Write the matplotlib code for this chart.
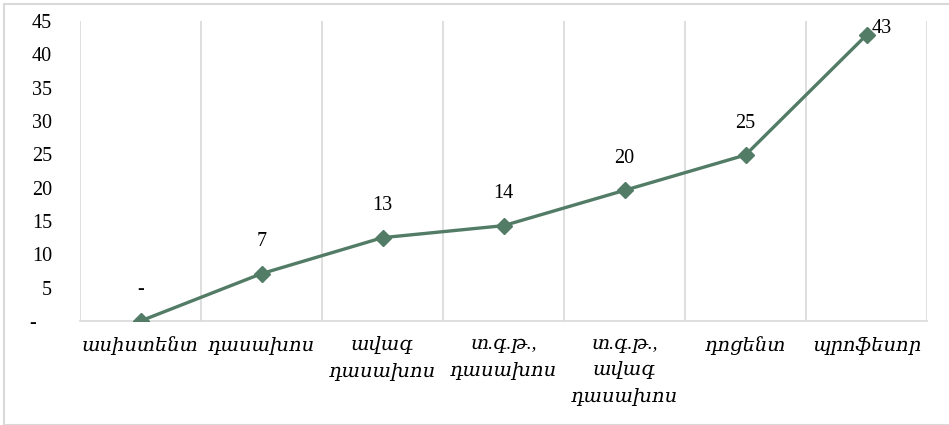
import matplotlib
matplotlib.use('Agg')
import matplotlib.pyplot as plt
from matplotlib.patches import Rectangle

# data
categories = ['ասիստենտ', 'դասախոս', 'ավագ\nդասախոս', 'տ.գ.թ.,\nդասախոս',
              'տ.գ.թ.,\nավագ\nդասախոս', 'դոցենտ', 'պրոֆեսոր']
values = [0, 7.1, 12.5, 14.3, 19.6, 24.9, 42.9]
yticks = [0, 5, 10, 15, 20, 25, 30, 35, 40, 45]

line_color = '#527c66'
grid_color = '#d9d9d9'
num_font = ['Liberation Serif', 'DejaVu Serif']


def fmt(v):
    # accounting style: zero shown as a dash
    return '-' if round(v) == 0 else str(int(v + 0.5))


fig = plt.figure(figsize=(9.49, 4.25), dpi=100)
ax = fig.add_axes([80 / 949, 104 / 425, 847 / 949, 300 / 425])

x = list(range(len(categories)))
ax.plot(x, values, color=line_color, lw=2.4, marker='D', ms=8, zorder=3)

for i, v in enumerate(values):
    if i == len(values) - 1:
        ax.annotate(fmt(v), (i, v), xytext=(4, 5), textcoords='offset points',
                    ha='left', va='center', fontsize=14.5, family=num_font)
    else:
        ax.annotate(fmt(v), (i, v), xytext=(0, 16), textcoords='offset points',
                    ha='center', va='bottom', fontsize=14.5, family=num_font)

for b in range(len(categories) + 1):
    ax.axvline(b - 0.5, color=grid_color, lw=1.2, zorder=0)

ax.set_xlim(-0.5, len(categories) - 0.5)
ax.set_ylim(0, 45)
ax.set_yticks(yticks)
ax.set_yticklabels([fmt(t) + ('   ' if t == 0 else '') for t in yticks],
                   fontsize=14.5, family=num_font)
ax.set_xticks(x)
ax.set_xticklabels(categories, fontsize=14, style='italic',
                   family=['Liberation Serif', 'DejaVu Serif'], linespacing=1.55)
ax.tick_params(length=0)
ax.tick_params(axis='y', pad=20)
ax.tick_params(axis='x', pad=11)

for s in ['top', 'right', 'left']:
    ax.spines[s].set_visible(False)
ax.spines['bottom'].set_color(grid_color)
ax.spines['bottom'].set_linewidth(1.2)

fig.add_artist(Rectangle((4 / 949, 0), 2, 421 / 425, transform=fig.transFigure,
                         fill=False, edgecolor=grid_color, lw=1.5))

fig.savefig('out.png', dpi=100)
